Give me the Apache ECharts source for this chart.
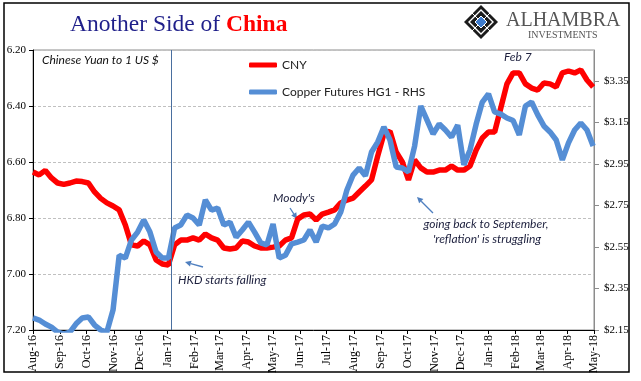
<!DOCTYPE html>
<html><head><meta charset="utf-8">
<script src="https://cdn.jsdelivr.net/npm/echarts@6/dist/echarts.min.js"></script>
<style>html,body{margin:0;padding:0;background:#fff}#c{width:641px;height:381px}</style>
</head><body><div id="c"></div>
<script>
const dates = [
'2016-08-01','2016-08-08','2016-08-15','2016-08-22','2016-08-29','2016-09-05','2016-09-12','2016-09-19','2016-09-26','2016-10-03',
'2016-10-10','2016-10-17','2016-10-24','2016-10-31','2016-11-07','2016-11-14','2016-11-21','2016-11-28','2016-12-05','2016-12-12',
'2016-12-19','2016-12-26','2017-01-02','2017-01-09','2017-01-16','2017-01-23','2017-01-30','2017-02-06','2017-02-13','2017-02-20',
'2017-02-27','2017-03-06','2017-03-13','2017-03-20','2017-03-27','2017-04-03','2017-04-10','2017-04-17','2017-04-24','2017-05-01',
'2017-05-08','2017-05-15','2017-05-22','2017-05-29','2017-06-05','2017-06-12','2017-06-19','2017-06-26','2017-07-03','2017-07-10',
'2017-07-17','2017-07-24','2017-07-31','2017-08-07','2017-08-14','2017-08-21','2017-08-28','2017-09-04','2017-09-11','2017-09-18',
'2017-09-25','2017-10-02','2017-10-09','2017-10-16','2017-10-23','2017-10-30','2017-11-06','2017-11-13','2017-11-20','2017-11-27',
'2017-12-04','2017-12-11','2017-12-18','2017-12-25','2018-01-01','2018-01-08','2018-01-15','2018-01-22','2018-01-29','2018-02-05',
'2018-02-12','2018-02-19','2018-02-26','2018-03-05','2018-03-12','2018-03-19','2018-03-26','2018-04-02','2018-04-09','2018-04-16',
'2018-04-23','2018-04-30'];
const cny = [
6.636,6.646,6.63,6.657,6.675,6.68,6.675,6.668,6.67,6.675,
6.707,6.73,6.746,6.757,6.771,6.825,6.896,6.9,6.882,6.896,
6.95,6.964,6.968,6.896,6.879,6.879,6.871,6.879,6.857,6.871,
6.879,6.907,6.911,6.907,6.882,6.886,6.9,6.907,6.907,6.904,
6.9,6.879,6.871,6.804,6.789,6.786,6.807,6.786,6.779,6.771,
6.746,6.736,6.729,6.707,6.686,6.664,6.579,6.50,6.49,6.564,
6.6,6.664,6.593,6.621,6.636,6.636,6.629,6.629,6.614,6.629,
6.629,6.614,6.557,6.514,6.493,6.493,6.407,6.321,6.282,6.282,
6.321,6.336,6.343,6.318,6.321,6.332,6.282,6.275,6.282,6.271,
6.307,6.332];
const copper = [
2.208,2.198,2.179,2.164,2.14,2.13,2.14,2.18,2.208,2.213,
2.174,2.15,2.14,2.246,2.51,2.497,2.584,2.622,2.68,2.622,
2.526,2.497,2.497,2.642,2.656,2.704,2.69,2.656,2.777,2.728,
2.738,2.656,2.67,2.598,2.632,2.67,2.622,2.57,2.56,2.661,
2.497,2.51,2.565,2.574,2.584,2.632,2.574,2.651,2.642,2.661,
2.719,2.825,2.897,2.931,2.893,3.008,3.056,3.129,3.066,2.936,
2.931,2.912,3.037,3.23,3.163,3.095,3.143,3.114,3.08,3.138,
2.946,3.018,3.143,3.249,3.288,3.201,3.191,3.172,3.16,3.09,
3.23,3.249,3.187,3.134,3.105,3.066,2.97,3.052,3.114,3.148,
3.114,3.037];
const rightTicks = [2.15, 2.35, 2.55, 2.75, 2.95, 3.15, 3.35];
const monthNames = ['Jan','Feb','Mar','Apr','May','Jun','Jul','Aug','Sep','Oct','Nov','Dec'];
const markerDate = '2017-01-05';
const xStart = '2016-08-01', xEnd = '2018-05-01';

const t = s => { const p = s.split('-').map(Number); return Date.UTC(p[0], p[1]-1, p[2]); };
const chart = echarts.init(document.getElementById('c'), null, {renderer:'canvas'});
const annColor = '#1c1f3d';
const arrowColor = '#4f7fbf';
function arrow(x1,y1,x2,y2){
  const a = Math.atan2(y2-y1, x2-x1), L = 6, W = 3;
  const bx = x2 - L*Math.cos(a), by = y2 - L*Math.sin(a);
  return [
    {type:'line', shape:{x1:x1,y1:y1,x2:bx,y2:by}, style:{stroke:arrowColor, lineWidth:1.3}},
    {type:'polygon', shape:{points:[[x2,y2],[bx - W*Math.sin(a), by + W*Math.cos(a)],[bx + W*Math.sin(a), by - W*Math.cos(a)]]}, style:{fill:arrowColor}}
  ];
}
function txt(x,y,s,opts){
  return {type:'text', x:x, y:y, style:Object.assign({text:s, fill:annColor, font:'italic 12px Lato', textVerticalAlign:'middle'}, opts||{})};
}
const graphics = [
  {type:'rect', shape:{x:4,y:3,width:625,height:369}, style:{fill:null, stroke:'#000', lineWidth:1.5}, z:100},
  {type:'polygon', shape:{points:[[481,5],[498,22],[481,39],[464,22]]}, style:{fill:'#1b1b1b'}},
  {type:'polygon', shape:{points:[[481,10],[493,22],[481,34],[469,22]]}, style:{fill:null, stroke:'#fff', lineWidth:1.4}},
  {type:'line', shape:{x1:472,y1:13,x2:490,y2:31}, style:{stroke:'#fff', lineWidth:1}},
  {type:'line', shape:{x1:490,y1:13,x2:472,y2:31}, style:{stroke:'#fff', lineWidth:1}},
  {type:'polygon', shape:{points:[[481,16],[487,22],[481,28],[475,22]]}, style:{fill:'#3f7ccc', stroke:'#fff', lineWidth:1}},
  {type:'text', x:506, y:21, style:{text:'ALHAMBRA', font:'20px "Liberation Serif"', fill:'#555', textVerticalAlign:'middle'}},
  {type:'text', x:528, y:35, style:{text:'INVESTMENTS', font:'10px "Liberation Serif"', fill:'#555', textVerticalAlign:'middle'}},
  txt(42, 60, 'Chinese Yuan to 1 US $', {fill:'#111'}),
  txt(504, 57, 'Feb 7'),
  txt(273, 198, "Moody's"),
  txt(178, 280, 'HKD starts falling'),
  txt(486, 224, 'going back to September,', {textAlign:'center'}),
  txt(487, 239, "'reflation' is struggling", {textAlign:'center'}),
  ...arrow(290,208,297,219),
  ...arrow(203,267,185,262),
  ...arrow(433,213,417,197)
];
const option = {
  animation:false,
  useUTC:true,
  backgroundColor:'#fff',
  title:{
    text:'{a|Another Side of }{b|China}', left:65, top:8,
    textStyle:{fontWeight:'normal', rich:{
      a:{fontFamily:'Liberation Serif', fontSize:23.5, fontWeight:'normal', color:'#1f1f8a'},
      b:{fontFamily:'Liberation Serif', fontSize:23.5, fontWeight:'bold', color:'#ff0000'}
    }}
  },
  legend:{
    data:['CNY','Copper Futures HG1 - RHS'], orient:'vertical', left:244, top:54, itemGap:15,
    itemWidth:28, itemHeight:5, icon:'roundRect',
    textStyle:{fontFamily:'Lato', fontSize:12, color:'#222'}
  },
  grid:{left:33, right:47, top:50, bottom:51, show:true, borderColor:'#8c8c8c', borderWidth:1},
  xAxis:{
    type:'time', min:t(xStart), max:t(xEnd), splitNumber:21,
    minInterval:28*864e5, maxInterval:31*864e5,
    axisLine:{lineStyle:{color:'#000'}},
    axisTick:{show:true, length:4, lineStyle:{color:'#000'}},
    splitLine:{show:false},
    axisLabel:{rotate:90, margin:5, fontFamily:'Liberation Serif', fontSize:12, color:'#000',
      formatter:function(v){ const d=new Date(v); return monthNames[d.getUTCMonth()]+'-'+String(d.getUTCFullYear()).slice(2); }}
  },
  yAxis:[
    {type:'value', inverse:true, min:6.2, max:7.2, interval:0.2, position:'left',
     axisLine:{show:true, lineStyle:{color:'#000'}},
     axisTick:{show:true, length:4, lineStyle:{color:'#000'}},
     axisLabel:{margin:7, fontFamily:'Liberation Serif', fontSize:11, color:'#000', formatter:v=>v.toFixed(2)},
     splitLine:{show:true, lineStyle:{color:'#c0c0c0', type:[3,2]}}},
    {type:'value', min:2.15, max:3.5, position:'right',
     axisLine:{show:true, lineStyle:{color:'#8c8c8c'}},
     axisTick:{show:true, length:5, customValues:rightTicks, lineStyle:{color:'#8c8c8c'}},
     axisLabel:{margin:10, customValues:rightTicks, fontFamily:'Liberation Serif', fontSize:11, color:'#000', formatter:v=>'$'+v.toFixed(2)},
     splitLine:{show:false}}
  ],
  series:[
    {name:'marker', type:'line', data:[], z:1, silent:true,
     markLine:{silent:true, symbol:['none','none'], label:{show:false}, animation:false,
       lineStyle:{color:'#4a6f9f', width:1, type:'solid'}, data:[{xAxis:t(markerDate)}]}},
    {name:'CNY', type:'line', yAxisIndex:0, z:2, showSymbol:false, symbol:'none',
     data:dates.map((d,i)=>[t(d), cny[i]]),
     lineStyle:{color:'#ff0000', width:5.5}, itemStyle:{color:'#ff0000'}},
    {name:'Copper Futures HG1 - RHS', type:'line', yAxisIndex:1, z:3, showSymbol:false, symbol:'none',
     data:dates.map((d,i)=>[t(d), copper[i]]),
     lineStyle:{color:'#558ed5', width:5.5}, itemStyle:{color:'#558ed5'}}
  ],
  graphic:graphics
};
chart.setOption(option);
</script></body></html>
